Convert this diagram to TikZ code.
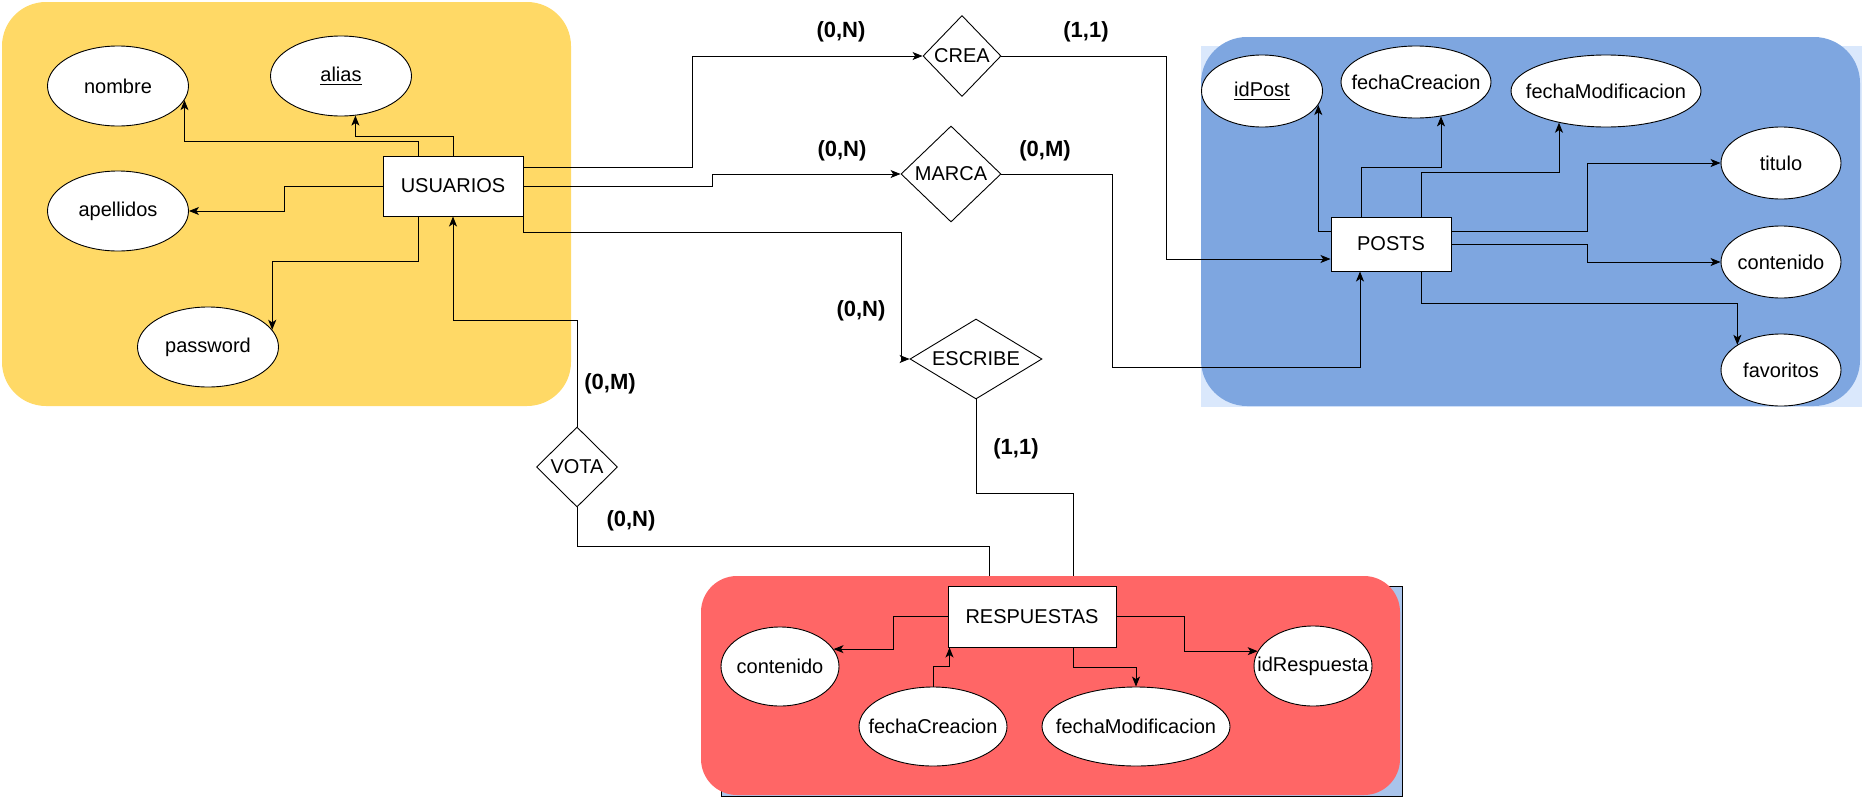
\documentclass[tikz,border=0pt]{standalone}
\usepackage{fontspec}
\setmainfont{Liberation Sans}
\usetikzlibrary{shapes.geometric,arrows.meta,calc}

\definecolor{usuarioszone}{HTML}{FFD966}
\definecolor{postszone}{HTML}{7EA6E0}
\definecolor{postspale}{HTML}{DAE8FC}
\definecolor{respzone}{HTML}{FF6666}
\definecolor{respback}{HTML}{A9C4EB}

\pgfdeclarelayer{zones}
\pgfdeclarelayer{links}
\pgfdeclarelayer{redpanel}
\pgfsetlayers{zones,links,redpanel,main}

% zero-width text so that the shapes keep their given size
\newcommand\ctext[1]{\makebox[0pt]{#1}}

\tikzset{
  basefont/.style={font=\fontsize{10}{12}\selectfont},
  entity/.style={draw, fill=white, rectangle, inner sep=0pt, line width=0.5pt, basefont},
  attr/.style={draw, fill=white, ellipse, inner sep=0pt, line width=0.45pt, basefont},
  rel/.style={draw, fill=white, diamond, inner sep=0pt, line width=0.45pt, basefont},
  card/.style={font=\bfseries\fontsize{11}{13}\selectfont, inner sep=0pt},
  arr/.style={draw, line width=0.45pt, -{Stealth[length=5pt,width=4pt,inset=1.3pt]}},
  link/.style={draw, line width=0.45pt},
}

\begin{document}
\begin{tikzpicture}[x=0.5pt,y=-0.5pt]
\useasboundingbox (0,0) rectangle (1864,798);

% ---------- coloured zones ----------
\begin{pgfonlayer}{zones}
  \fill[usuarioszone, rounded corners=22pt] (2,2) rectangle (571,406);
  \fill[postspale] (1201,46) rectangle (1862,407);
  \fill[postszone, rounded corners=23pt] (1201,37) rectangle (1860,406);
\end{pgfonlayer}
\begin{pgfonlayer}{redpanel}
  \filldraw[fill=respback, draw=black, line width=0.5pt] (721,586) rectangle (1402,796.5);
  \fill[respzone, rounded corners=18pt] (701,576) rectangle (1400,795);
\end{pgfonlayer}

% ---------- USUARIOS ----------
\node[entity, minimum width=70pt, minimum height=30pt] (usu) at (453,186) {\ctext{USUARIOS}};
\node[attr, minimum width=70.5pt, minimum height=40pt] (nombre) at (118,86) {\ctext{nombre}};
\node[attr, minimum width=70.5pt, minimum height=40pt] (alias) at (341,76) {\ctext{\underline{alias}}};
\node[attr, minimum width=70.5pt, minimum height=40pt] (apellidos) at (118,211) {\ctext{apellidos}};
\node[attr, minimum width=70.5pt, minimum height=40pt] (password) at (208,347) {\ctext{password}};

% ---------- POSTS ----------
\node[entity, minimum width=60pt, minimum height=27pt] (posts) at (1391,244) {\ctext{POSTS}};
\node[attr, minimum width=60.5pt, minimum height=36pt] (idpost) at (1262,91) {\ctext{\underline{idPost}}};
\node[attr, minimum width=75pt, minimum height=36pt] (pfcrea) at (1416,82) {\ctext{fechaCreacion}};
\node[attr, minimum width=95pt, minimum height=36pt] (pfmod) at (1606,91) {\ctext{fechaModificacion}};
\node[attr, minimum width=60pt, minimum height=36pt] (titulo) at (1781,163) {\ctext{titulo}};
\node[attr, minimum width=60pt, minimum height=36pt] (pcont) at (1781,262) {\ctext{contenido}};
\node[attr, minimum width=60pt, minimum height=36pt] (favs) at (1781,370) {\ctext{favoritos}};

% ---------- RESPUESTAS ----------
\node[entity, minimum width=84pt, minimum height=30.5pt] (resp) at (1032,616.5) {\ctext{RESPUESTAS}};
\node[attr, minimum width=59pt, minimum height=39.5pt] (rcont) at (780,666.5) {\ctext{contenido}};
\node[attr, minimum width=74pt, minimum height=39.5pt] (rfcrea) at (933,726.5) {\ctext{fechaCreacion}};
\node[attr, minimum width=94pt, minimum height=39.5pt] (rfmod) at (1136,726.5) {\ctext{fechaModificacion}};
\node[attr, minimum width=59pt, minimum height=40pt] (rid) at (1313,666) {\ctext{idRespuesta}};

% ---------- relationships ----------
\node[rel, minimum width=39pt, minimum height=40.5pt] (crea) at (962,56) {\ctext{CREA}};
\node[rel, minimum width=50pt, minimum height=48pt] (marca) at (951,174) {\ctext{MARCA}};
\node[rel, minimum width=66pt, minimum height=40pt] (escribe) at (976,359) {\ctext{ESCRIBE}};
\node[rel, minimum width=40.5pt, minimum height=40pt] (vota) at (577,467) {\ctext{VOTA}};

% ---------- cardinalities ----------
\node[card] (c1) at (841,32) {(0,N)};
\node[card] (c2) at (1086,32) {(1,1)};
\node[card] (c3) at (842,151) {(0,N)};
\node[card] (c4) at (1045,151) {(0,M)};
\node[card] (c5) at (861,311) {(0,N)};
\node[card] (c6) at (610,384) {(0,M)};
\node[card] (c7) at (1016,449) {(1,1)};
\node[card] (c8) at (631,521) {(0,N)};

% ---------- USUARIOS attributes ----------
\draw[arr] ($(usu.north)+(-35,0)$) -- ++(0,-14) -| (nombre.-12);
\draw[arr] (usu.north) -- ++(0,-19) -| (alias.-70);
\draw[arr] (usu.west) -- ++(-98,0) |- (apellidos.east);
\draw[arr] ($(usu.south)+(-35,0)$) -- ++(0,45) -| (password.15);

% ---------- relationship links ----------
\draw[arr] ($(usu.east)+(0,-19)$) -- ++(168.5,0) |- (crea.west);
\draw[arr] (usu.east) -- ++(189,0) |- (marca.west);
\draw[arr] (usu.south east) -- ++(0,16) -| ($(escribe.west)+(-8,0)$) -- (escribe.west);
\draw[arr] (vota.north) -- ++(0,-106) -| (usu.south);
\draw[arr] (crea.east) -- ++(165,0) |- ($(posts.west)+(0,15)$);
\draw[arr] (marca.east) -- ++(111,0) -- ++(0,193) -| ($(posts.south)+(-31,0)$);
\begin{pgfonlayer}{links}
  \draw[link] (vota.south) -- ++(0,39) -| ($(resp.north west)+(42,0)$);
  \draw[link] (escribe.south) -- ++(0,94) -| ($(resp.north)+(41,0)$);
\end{pgfonlayer}

% ---------- POSTS attributes ----------
\draw[arr] ($(posts.west)+(0,-13)$) -| (idpost.-14);
\draw[arr] ($(posts.north)+(-30,0)$) -- ++(0,-49) -| (pfcrea.-54);
\draw[arr] ($(posts.north)+(30,0)$) -- ++(0,-44) -| (pfmod.214);
\draw[arr] ($(posts.east)+(0,-13)$) -- ++(135.5,0) |- (titulo.west);
\draw[arr] (posts.east) -- ++(135.5,0) |- (pcont.west);
\draw[arr] ($(posts.south)+(30,0)$) -- ++(0,32) -| (favs.150);

% ---------- RESPUESTAS attributes ----------
\draw[arr] (resp.west) -- ++(-54.5,0) |- (rcont.18);
\draw[arr] (rfcrea.north) -- ++(0,-20) -| ($(resp.south west)+(2,0)$);
\draw[arr] ($(resp.south)+(41,0)$) -- ++(0,20) -| (rfmod.north);
\draw[arr] (resp.east) -- ++(68,0) |- (rid.165);

\end{tikzpicture}
\end{document}
